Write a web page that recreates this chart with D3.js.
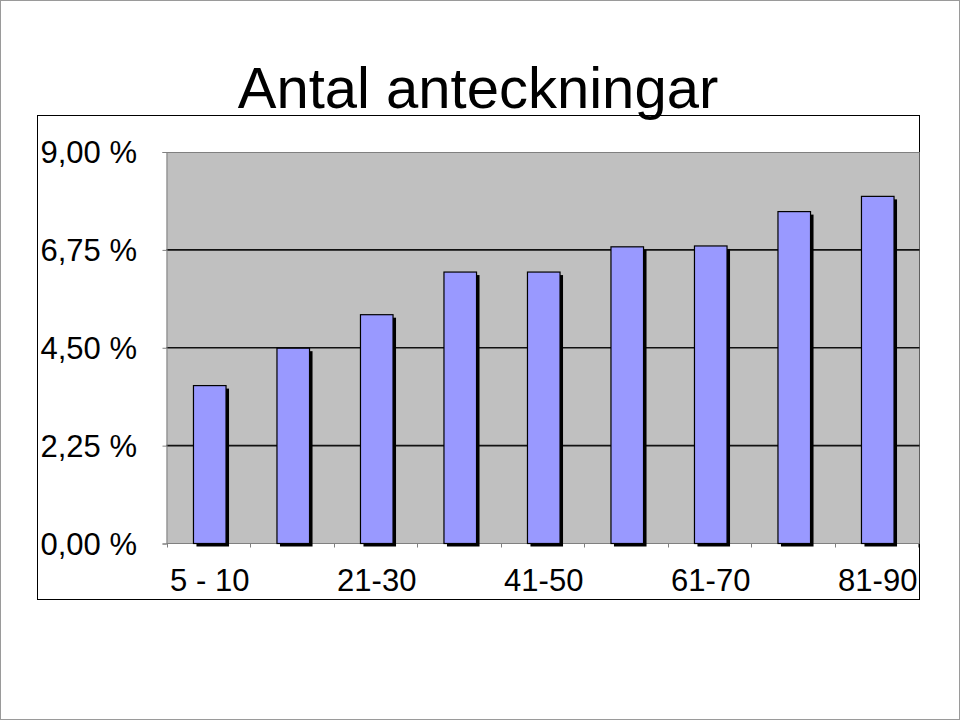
<!DOCTYPE html>
<html>
<head>
<meta charset="utf-8">
<script src="https://cdn.jsdelivr.net/npm/d3@7"></script>
<style>
  html, body { margin: 0; padding: 0; background: #fff; }
  svg { display: block; font-family: "Liberation Sans", Arial, sans-serif; }
</style>
</head>
<body>
<svg id="chart" width="960" height="720"></svg>
<script>
const title = "Antal anteckningar";
const categories = ["5 - 10", "11-20", "21-30", "31-40", "41-50", "51-60", "61-70", "71-80", "81-90"];
const values = [3.63, 4.49, 5.26, 6.24, 6.24, 6.82, 6.84, 7.63, 7.98];
const yTicks = [0, 2.25, 4.5, 6.75, 9];
const shownLabels = ["5 - 10", "21-30", "41-50", "61-70", "81-90"];

const svg = d3.select("#chart");

// page border
svg.append("rect").attr("x", 0.5).attr("y", 0.5).attr("width", 959).attr("height", 719)
  .attr("fill", "#fff").attr("stroke", "#9a9a9a").attr("stroke-width", 1);

// chart box
svg.append("rect").attr("x", 37.5).attr("y", 115.5).attr("width", 882).attr("height", 484)
  .attr("fill", "#fff").attr("stroke", "#000").attr("stroke-width", 1);

const plot = { left: 166.5, right: 919.5, top: 152, bottom: 543.5 };

const x = d3.scaleBand().domain(categories).range([168, 919.5]).paddingInner(0.61).paddingOuter(0.305);
const y = d3.scaleLinear().domain([0, 9]).range([plot.bottom, plot.top]);

// plot area
svg.append("rect").attr("x", plot.left).attr("y", plot.top)
  .attr("width", plot.right - plot.left).attr("height", plot.bottom - plot.top)
  .attr("fill", "#c0c0c0");
svg.append("line").attr("x1", plot.left).attr("x2", plot.right)
  .attr("y1", y(9) + 0.5).attr("y2", y(9) + 0.5).attr("stroke", "#808080");

// gridlines
svg.append("g").selectAll("line").data(yTicks.filter(d => d > 0 && d < 9)).join("line")
  .attr("x1", plot.left).attr("x2", plot.right)
  .attr("y1", d => y(d)).attr("y2", d => y(d))
  .attr("stroke", "#111").attr("stroke-width", 1.6);

// y axis
const yAxis = d3.axisLeft(y).tickValues(yTicks).tickSize(4).tickFormat("");
const gy = svg.append("g").attr("transform", `translate(${plot.left},0)`).call(yAxis);
gy.select(".domain").attr("stroke", "#808080");
gy.selectAll(".tick line").attr("stroke", "#808080");

// y labels
svg.append("g").selectAll("text").data(yTicks).join("text")
  .attr("x", 137).attr("y", d => y(d)).attr("dy", "0.36em")
  .attr("text-anchor", "end").attr("font-size", 31).attr("fill", "#000")
  .text(d => d3.format(".2f")(d).replace(".", ",") + " %");

// x axis with ticks at category boundaries
const step = x.step();
const boundaries = d3.range(categories.length + 1).map(i => 166.5 + i * step);
svg.append("line").attr("x1", plot.left).attr("x2", plot.right)
  .attr("y1", plot.bottom).attr("y2", plot.bottom).attr("stroke", "#808080");
svg.append("g").selectAll("line").data(boundaries).join("line")
  .attr("x1", d => Math.round(d) + 0.5).attr("x2", d => Math.round(d) + 0.5)
  .attr("y1", plot.bottom).attr("y2", plot.bottom + 4).attr("stroke", "#808080");

// bars: shadow + bar
const bars = svg.append("g");
bars.selectAll("rect.shadow").data(values).join("rect").attr("class", "shadow")
  .attr("x", (d, i) => x(categories[i]) + 3).attr("y", d => y(d) + 3)
  .attr("width", x.bandwidth()).attr("height", d => y(0) - y(d))
  .attr("fill", "#000");
bars.selectAll("rect.bar").data(values).join("rect").attr("class", "bar")
  .attr("x", (d, i) => x(categories[i])).attr("y", d => y(d))
  .attr("width", x.bandwidth()).attr("height", d => y(0) - y(d))
  .attr("fill", "#9999ff").attr("stroke", "#000").attr("stroke-width", 1.2);

// x labels
svg.append("g").selectAll("text").data(shownLabels).join("text")
  .attr("x", d => x(d) + x.bandwidth() / 2).attr("y", 591)
  .attr("text-anchor", "middle").attr("font-size", 31).attr("fill", "#000")
  .text(d => d);

// title
svg.append("text").attr("x", 478).attr("y", 108).attr("text-anchor", "middle")
  .attr("font-size", 58).attr("fill", "#000").text(title);
</script>
</body>
</html>
